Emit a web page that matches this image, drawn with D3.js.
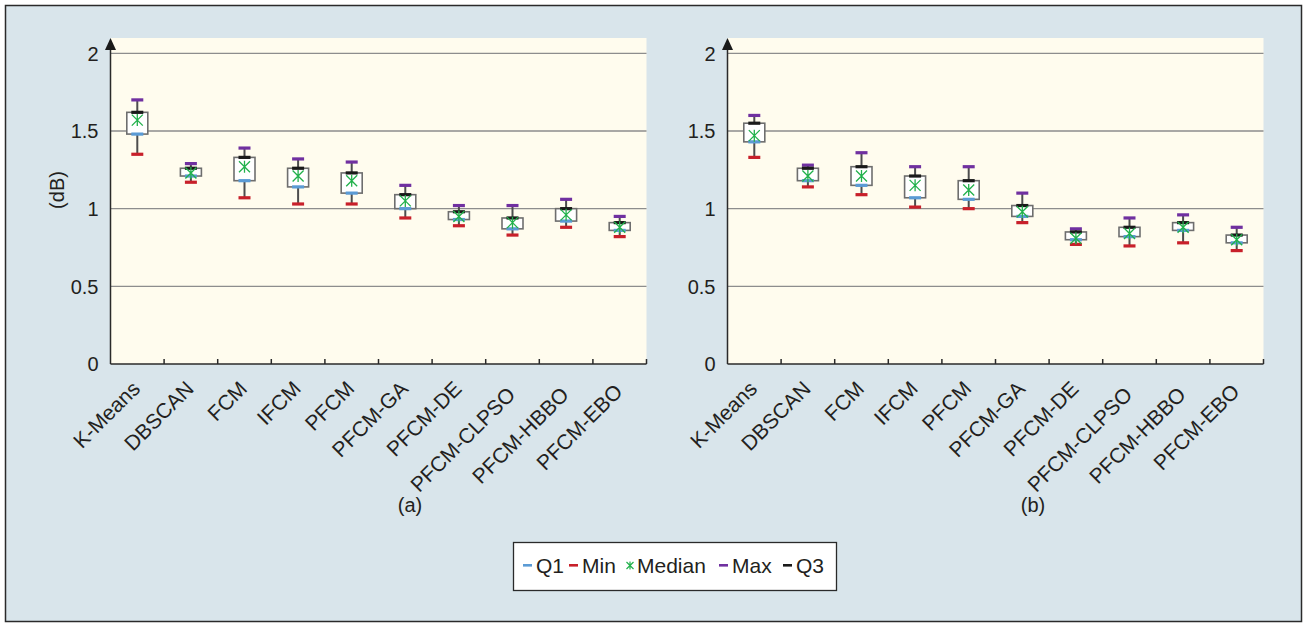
<!DOCTYPE html>
<html>
<head>
<meta charset="utf-8">
<script src="https://cdn.jsdelivr.net/npm/d3@7"></script>
<style>
  body { margin: 0; background: #fff; }
  text { font-family: "Liberation Sans", Arial, Helvetica, sans-serif; fill: #231f20; }
</style>
</head>
<body>
<div id="chart"></div>
<script>
var methods = ['K-Means', 'DBSCAN', 'FCM', 'IFCM', 'PFCM', 'PFCM-GA',
               'PFCM-DE', 'PFCM-CLPSO', 'PFCM-HBBO', 'PFCM-EBO'];

// panel (a)
var minA    = [1.35, 1.17, 1.07, 1.03, 1.03, 0.94, 0.89, 0.83, 0.88, 0.82];
var q1A     = [1.48, 1.21, 1.18, 1.14, 1.10, 1.00, 0.93, 0.87, 0.92, 0.86];
var medianA = [1.57, 1.23, 1.27, 1.21, 1.18, 1.05, 0.95, 0.91, 0.96, 0.88];
var q3A     = [1.62, 1.26, 1.33, 1.26, 1.23, 1.09, 0.98, 0.94, 1.00, 0.91];
var maxA    = [1.70, 1.29, 1.39, 1.32, 1.30, 1.15, 1.02, 1.02, 1.06, 0.95];

// panel (b)
var minB    = [1.33, 1.14, 1.09, 1.01, 1.00, 0.91, 0.77, 0.76, 0.78, 0.73];
var q1B     = [1.43, 1.18, 1.15, 1.07, 1.06, 0.95, 0.80, 0.82, 0.86, 0.78];
var medianB = [1.47, 1.21, 1.21, 1.15, 1.12, 0.98, 0.81, 0.84, 0.88, 0.80];
var q3B     = [1.55, 1.26, 1.27, 1.21, 1.18, 1.02, 0.85, 0.88, 0.91, 0.83];
var maxB    = [1.60, 1.28, 1.36, 1.27, 1.27, 1.10, 0.87, 0.94, 0.96, 0.88];

var yTicks = [0, 0.5, 1, 1.5, 2];
var yTickLabels = ['0', '0.5', '1', '1.5', '2'];

var legendItems = [
  { key: 'Q1',     color: '#5b9bd5', kind: 'dash' },
  { key: 'Min',    color: '#c8202a', kind: 'dash' },
  { key: 'Median', color: '#22b14c', kind: 'star' },
  { key: 'Max',    color: '#7030a0', kind: 'dash' },
  { key: 'Q3',     color: '#1a1a1a', kind: 'dash' }
];
var markColor = {};
legendItems.forEach(function(d) { markColor[d.key] = d.color; });

// long labels sit a little lower (as in the original layout)
var labelDrop = [0, 0, 0, 0, 0, 0, 0, 6, 6, 3];

var W = 1312, H = 626;

var svg = d3.select('#chart').append('svg')
  .attr('width', W)
  .attr('height', H);

// outer frame
svg.append('rect')
  .attr('x', 5.5).attr('y', 5.5)
  .attr('width', 1296).attr('height', 616)
  .attr('fill', '#d9e5eb')
  .attr('stroke', '#2a2a2a')
  .attr('stroke-width', 1.5);

var y = d3.scaleLinear().domain([0, 2]).range([364, 53.3]);

function drawPanel(x0, x1, data, label, labelX) {
  var g = svg.append('g');

  var x = d3.scaleBand().domain(methods).range([x0, x1]);

  // plot background
  g.append('rect')
    .attr('x', x0).attr('y', 38)
    .attr('width', x1 - x0).attr('height', y(0) - 38)
    .attr('fill', '#fffcee');

  // grid lines
  g.selectAll('line.grid')
    .data(yTicks.filter(function(d) { return d > 0; }))
    .enter().append('line')
    .attr('class', 'grid')
    .attr('x1', x0).attr('x2', x1)
    .attr('y1', function(d) { return y(d); })
    .attr('y2', function(d) { return y(d); })
    .attr('stroke', '#8d8d8d')
    .attr('stroke-width', 1.3);

  // y tick labels
  g.selectAll('text.ytick')
    .data(yTicks)
    .enter().append('text')
    .attr('class', 'ytick')
    .attr('x', x0 - 12)
    .attr('y', function(d) { return y(d); })
    .attr('dy', '0.36em')
    .attr('text-anchor', 'end')
    .style('font-size', '20px')
    .text(function(d, i) { return yTickLabels[i]; });

  // x axis line + ticks (pointing up)
  g.append('line')
    .attr('x1', x0).attr('x2', x1)
    .attr('y1', y(0)).attr('y2', y(0))
    .attr('stroke', '#2a2a2a').attr('stroke-width', 1.5);

  g.selectAll('line.xtick')
    .data(methods.slice(1).concat(['end']))
    .enter().append('line')
    .attr('class', 'xtick')
    .attr('x1', function(d) { return d === 'end' ? x1 : x(d); })
    .attr('x2', function(d) { return d === 'end' ? x1 : x(d); })
    .attr('y1', y(0)).attr('y2', y(0) - 5)
    .attr('stroke', '#2a2a2a').attr('stroke-width', 1.5);

  // y axis with arrow
  g.append('line')
    .attr('x1', x0).attr('x2', x0)
    .attr('y1', y(0)).attr('y2', 46)
    .attr('stroke', '#2a2a2a').attr('stroke-width', 1.5);
  g.append('path')
    .attr('d', 'M' + (x0 - 5.5) + ',50 L' + x0 + ',38 L' + (x0 + 5.5) + ',50 Z')
    .attr('fill', '#1a1a1a');

  // x category labels
  g.selectAll('text.xlab')
    .data(methods)
    .enter().append('text')
    .attr('class', 'xlab')
    .attr('text-anchor', 'end')
    .style('font-size', '21px')
    .attr('transform', function(d, i) {
      var cx = x(d) + x.bandwidth() / 2 + 4;
      return 'translate(' + cx + ',' + (y(0) + 26 + labelDrop[i]) + ') rotate(-45)';
    })
    .text(function(d) { return d; });

  // boxes
  var bw = 21, mw = 12;
  var boxes = g.selectAll('g.box')
    .data(methods.map(function(m, i) {
      return { name: m, min: data.min[i], q1: data.q1[i], median: data.median[i],
               q3: data.q3[i], max: data.max[i] };
    }))
    .enter().append('g')
    .attr('class', 'box')
    .attr('transform', function(d) {
      return 'translate(' + (x(d.name) + x.bandwidth() / 2) + ',0)';
    });

  boxes.append('line')
    .attr('y1', function(d) { return y(d.min); })
    .attr('y2', function(d) { return y(d.max); })
    .attr('stroke', '#4d4d4d').attr('stroke-width', 2);

  boxes.append('rect')
    .attr('x', -bw / 2)
    .attr('y', function(d) { return y(d.q3); })
    .attr('width', bw)
    .attr('height', function(d) { return y(d.q1) - y(d.q3); })
    .attr('fill', '#fff')
    .attr('stroke', '#6e6e6e')
    .attr('stroke-width', 1.6);

  ['Max', 'Min', 'Q3', 'Q1'].forEach(function(k) {
    var field = k.toLowerCase();
    boxes.append('rect')
      .attr('x', -mw / 2)
      .attr('y', function(d) { return y(d[field]) - 1.6; })
      .attr('width', mw).attr('height', 3.2)
      .attr('fill', markColor[k]);
  });

  // median marker (asterisk)
  boxes.append('path')
    .attr('transform', function(d) { return 'translate(0,' + y(d.median) + ')'; })
    .attr('d', 'M-5.5,-5.5L5.5,5.5M-5.5,5.5L5.5,-5.5M0,-6L0,6')
    .attr('stroke', markColor['Median'])
    .attr('stroke-width', 1.3)
    .attr('fill', 'none');

  // panel label
  g.append('text')
    .attr('x', labelX)
    .attr('y', 512)
    .attr('text-anchor', 'middle')
    .style('font-size', '20px')
    .text(label);
}

drawPanel(110.5, 646.5, { min: minA, q1: q1A, median: medianA, q3: q3A, max: maxA }, '(a)', 410);
drawPanel(727.5, 1263.5, { min: minB, q1: q1B, median: medianB, q3: q3B, max: maxB }, '(b)', 1033);

// y axis title
svg.append('text')
  .attr('transform', 'translate(64,190) rotate(-90)')
  .attr('text-anchor', 'middle')
  .style('font-size', '20px')
  .text('(dB)');

// legend
var lg = svg.append('g');
lg.append('rect')
  .attr('x', 513.5).attr('y', 542.5)
  .attr('width', 323).attr('height', 48)
  .attr('fill', '#fff')
  .attr('stroke', '#2a2a2a')
  .attr('stroke-width', 1.3);

var legendX = [523, 569, 626, 719, 783];
legendItems.forEach(function(d, i) {
  var lx = legendX[i];
  if (d.kind === 'dash') {
    lg.append('rect')
      .attr('x', lx).attr('y', 564)
      .attr('width', 9).attr('height', 2.6)
      .attr('fill', d.color);
  } else {
    lg.append('path')
      .attr('transform', 'translate(' + (lx + 4) + ',565.5)')
      .attr('d', 'M-3.5,-3.5L3.5,3.5M-3.5,3.5L3.5,-3.5M0,-4L0,4')
      .attr('stroke', d.color).attr('stroke-width', 1.2);
  }
  lg.append('text')
    .attr('x', lx + (d.kind === 'dash' ? 13 : 11))
    .attr('y', 573)
    .style('font-size', '21px')
    .text(d.key);
});
</script>
</body>
</html>
